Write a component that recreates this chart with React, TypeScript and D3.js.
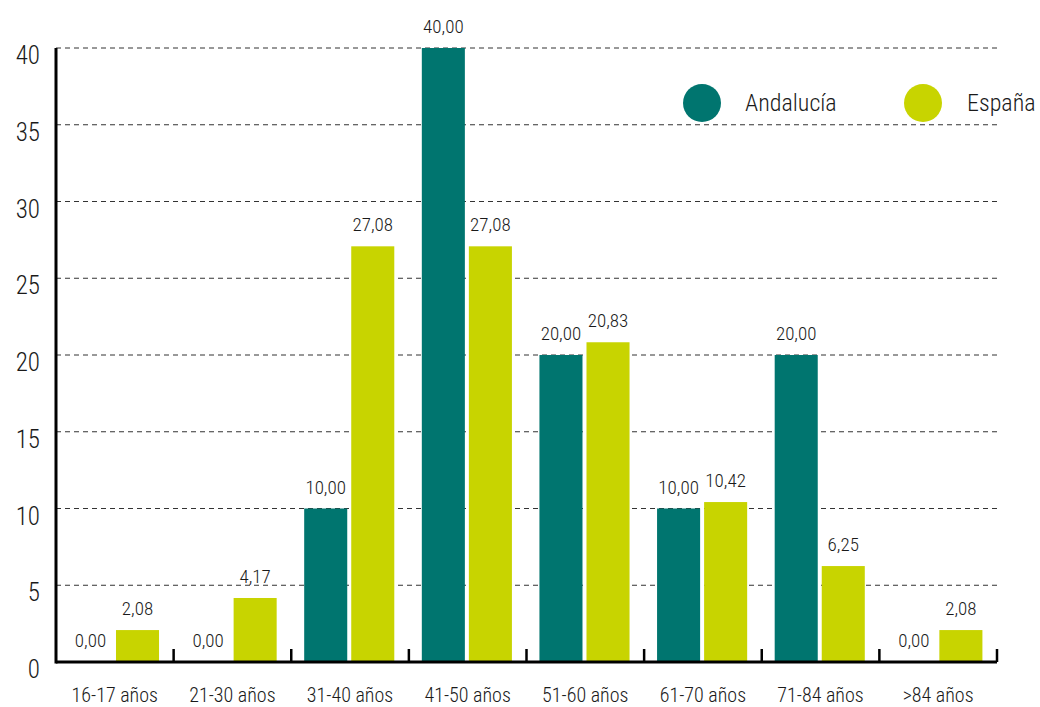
import React from "react";
import * as d3 from "d3";

const categories = ["16-17 años", "21-30 años", "31-40 años", "41-50 años", "51-60 años", "61-70 años", "71-84 años", ">84 años"];
const andalucia = [0, 0, 10, 40, 20, 10, 20, 0];
const espana = [2.08, 4.17, 27.08, 27.08, 20.83, 10.42, 6.25, 2.08];
const yTicks = [0, 5, 10, 15, 20, 25, 30, 35, 40];
const seriesNames = ["Andalucía", "España"];
const colors = ["#00756f", "#c8d400"];

const W = 1040, H = 707;
const left = 56, right = 997, top = 48, bottom = 662;
const font = "'Roboto Condensed', 'Liberation Sans Narrow', Roboto, sans-serif";

export default function App() {
  const x = d3.scaleBand<string>().domain(categories).range([left, right]).padding(0);
  const y = d3.scaleLinear().domain([0, 40]).range([bottom, top]);
  const bw = x.bandwidth();
  const barW = bw * 0.366;
  const offs = [bw * 0.11, bw * 0.51];
  const fmt = (v: number) => v.toFixed(2).replace(".", ",");
  const series = [andalucia, espana];

  return (
    <svg width={W} height={H} style={{ position: "absolute", left: 0, top: 0, background: "#fff" }} fontFamily={font} fontWeight={300}>
      {yTicks.filter(t => t > 0).map(t => (
        <line key={"g" + t} x1={left} x2={right} y1={y(t)} y2={y(t)} stroke="#333" strokeWidth={1} strokeDasharray="5,4" />
      ))}
      {yTicks.map(t => (
        <text key={"yt" + t} x={40} y={y(t) + 16} textAnchor="end" fontSize={25} fill="#1a1a1a">{t}</text>
      ))}
      {series.map((s, si) =>
        s.map((v, i) => (
          <rect key={`b${si}-${i}`} x={(x(categories[i]) as number) + offs[si]} y={y(v)} width={barW} height={bottom - y(v)} fill={colors[si]} />
        ))
      )}
      {series.map((s, si) =>
        s.map((v, i) => (
          <text key={`l${si}-${i}`} x={(x(categories[i]) as number) + offs[si] + barW / 2} y={y(v) - 15} textAnchor="middle" fontSize={19} fill="#1a1a1a">{fmt(v)}</text>
        ))
      )}
      <line x1={left} x2={left} y1={top} y2={bottom + 1.5} stroke="#000" strokeWidth={3} />
      <line x1={left} x2={right} y1={bottom} y2={bottom} stroke="#000" strokeWidth={3} />
      {categories.map((c, i) => (
        <line key={"tk" + i} x1={(x(c) as number) + bw} x2={(x(c) as number) + bw} y1={bottom - 13} y2={bottom} stroke="#000" strokeWidth={2.5} />
      ))}
      {categories.map(c => (
        <text key={"xl" + c} x={(x(c) as number) + bw / 2} y={702} textAnchor="middle" fontSize={20} fill="#1a1a1a">{c}</text>
      ))}
      {seriesNames.map((n, i) => (
        <g key={"lg" + n}>
          <circle cx={702 + i * 221} cy={103} r={19} fill={colors[i]} />
          <text x={745 + i * 222} y={111} fontSize={24} fill="#1a1a1a">{n}</text>
        </g>
      ))}
    </svg>
  );
}
